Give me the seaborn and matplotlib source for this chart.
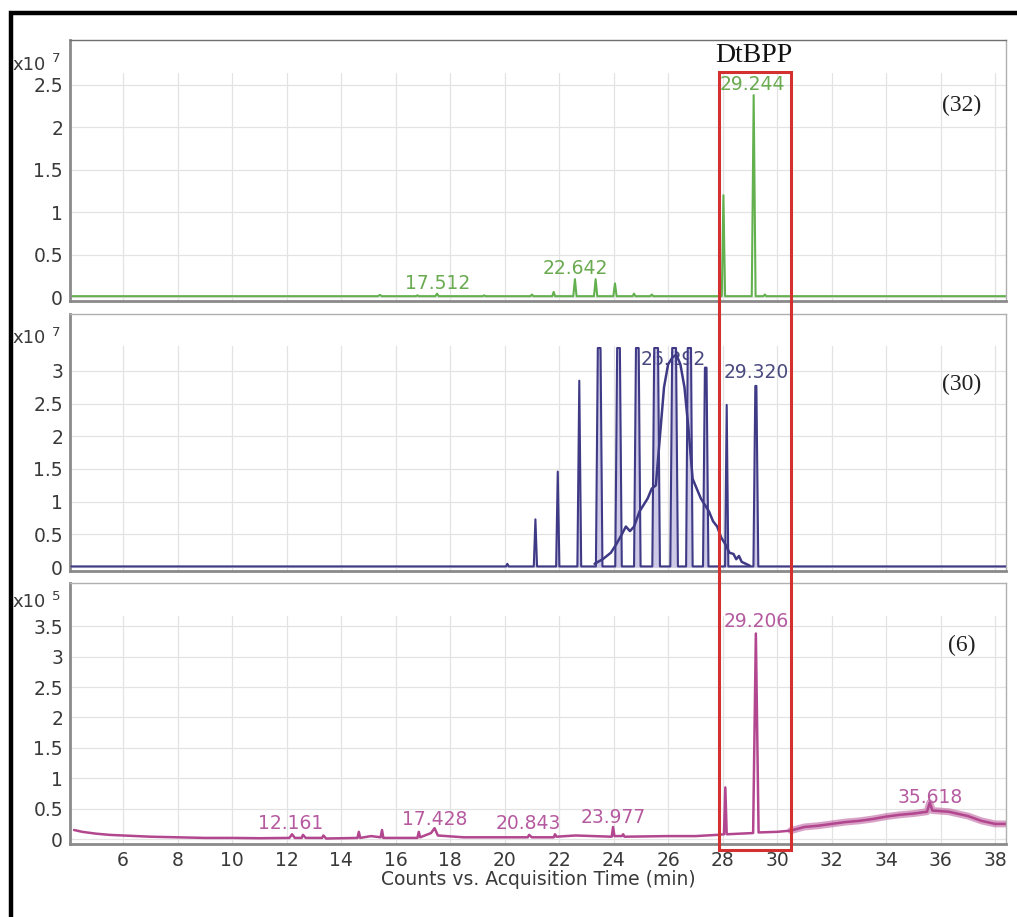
import numpy as np
import pandas as pd
import seaborn as sns
import matplotlib.pyplot as plt
import matplotlib.transforms as mtransforms
from matplotlib.patches import Rectangle
from matplotlib.lines import Line2D

sns.set_style("white")
plt.rcParams["font.family"] = ["DejaVu Sans"]

# ---- data ----
# top trace, sample (32), counts x10^7
top_t = [4.1,
         15.35, 15.42, 15.49, 16.75, 16.8, 16.85, 17.46, 17.52, 17.58,
         19.2, 19.25, 19.3, 20.95, 21.0, 21.05, 21.75, 21.8, 21.85,
         22.52, 22.58, 22.64, 23.28, 23.34, 23.4, 23.99, 24.05, 24.11,
         24.7, 24.75, 24.8, 25.35, 25.4, 25.45, 27.97, 28.03, 28.09,
         29.07, 29.14, 29.21, 29.5, 29.55, 29.6,
         38.4]
top_y = [0.01,
         0.01, 0.025, 0.01, 0.01, 0.02, 0.01, 0.01, 0.04, 0.01,
         0.01, 0.02, 0.01, 0.01, 0.03, 0.01, 0.01, 0.06, 0.01,
         0.01, 0.21, 0.01, 0.01, 0.21, 0.01, 0.01, 0.16, 0.01,
         0.01, 0.04, 0.01, 0.01, 0.03, 0.01, 0.01, 1.2, 0.01,
         0.01, 2.38, 0.01, 0.01, 0.03, 0.01,
         0.01]
top_labels = ["17.512", "22.642", "29.244"]
top_label_x = [17.54, 22.6, 29.11]
top_label_y = [0.165, 0.34, 2.5]

# middle trace, sample (30), counts x10^7 (peaks + broad hump)
mid_peak_t = [4.1, 20.05, 20.1, 20.15, 21.07, 21.13, 21.19, 21.89, 21.95, 22.01, 22.67, 22.74, 22.81,
              23.35, 23.42, 23.52, 23.59, 24.06, 24.13, 24.23, 24.30, 24.75, 24.82, 24.92, 24.99,
              25.42, 25.49, 25.63, 25.70,
              26.08, 26.15, 26.29, 26.36, 26.66, 26.72, 26.84, 26.90, 27.28, 27.35, 27.41, 27.48,
              28.09, 28.15, 28.21,
              29.13, 29.2, 29.24, 29.31, 38.4]
mid_peak_y = [0.01, 0.01, 0.05, 0.01, 0.01, 0.73, 0.01, 0.01, 1.46, 0.01, 0.01, 2.85, 0.01,
              0.01, 3.35, 3.35, 0.01, 0.01, 3.35, 3.35, 0.01, 0.01, 3.35, 3.35, 0.01,
              0.01, 3.35, 3.35, 0.01,
              0.01, 3.35, 3.35, 0.01, 0.01, 3.35, 3.35, 0.01, 0.01, 3.05, 3.05, 0.01,
              0.01, 2.48, 0.01,
              0.01, 2.77, 2.77, 0.01, 0.01]
mid_hump_t = [23.3, 23.6, 23.9, 24.1, 24.3, 24.45, 24.6, 24.75, 24.95, 25.1,
              25.25, 25.4, 25.55, 25.7, 25.85, 26.0, 26.15, 26.3, 26.45, 26.6,
              26.75, 26.9, 27.05, 27.2, 27.35, 27.5, 27.65, 27.8, 27.95, 28.1,
              28.25, 28.4, 28.5, 28.6, 28.7, 28.85, 29.0]
mid_hump_y = [0.05, 0.12, 0.22, 0.35, 0.5, 0.62, 0.55, 0.62, 0.85, 0.95,
              1.05, 1.2, 1.25, 2.0, 2.75, 3.1, 3.2, 3.25, 3.1, 2.75,
              2.1, 1.35, 1.2, 1.05, 0.95, 0.85, 0.7, 0.62, 0.45, 0.35,
              0.22, 0.2, 0.12, 0.17, 0.08, 0.05, 0.02]
mid_labels = ["26.292", "29.320"]
mid_label_x = [26.18, 29.22]
mid_label_y = [3.17, 2.97]

# bottom trace, sample (6), counts x10^5
bot_t = [4.2, 4.5, 5.0, 5.5, 6.0, 7.0, 8.0, 9.0, 10.0, 11.0,
         12.1, 12.2, 12.3, 12.55, 12.6, 12.7, 13.3, 13.35, 13.45, 14.6,
         14.65, 14.7, 15.1, 15.45, 15.5, 15.55, 16.8, 16.85, 16.9, 17.3,
         17.43, 17.55, 18.5, 20.0, 20.85, 20.9, 21.0, 21.8, 21.85, 21.9,
         22.6, 23.93, 23.98, 24.03, 24.3, 24.35, 24.4, 26.0, 27.0, 27.8,
         28.05, 28.1, 28.15, 29.12, 29.22, 29.32, 30.0, 30.5, 31.0, 31.5,
         32.0, 32.5, 33.0, 33.5, 34.0, 34.5, 35.0, 35.5, 35.6, 35.7,
         36.0, 36.3, 36.7, 37.0, 37.5, 38.0, 38.4]
bot_y = [0.15, 0.12, 0.09, 0.07, 0.06, 0.04, 0.03, 0.02, 0.02, 0.015,
         0.02, 0.08, 0.02, 0.02, 0.07, 0.02, 0.02, 0.06, 0.01, 0.02,
         0.12, 0.02, 0.05, 0.03, 0.15, 0.02, 0.02, 0.12, 0.03, 0.1,
         0.18, 0.06, 0.03, 0.03, 0.03, 0.07, 0.03, 0.03, 0.08, 0.04,
         0.06, 0.04, 0.2, 0.05, 0.05, 0.08, 0.04, 0.05, 0.05, 0.07,
         0.08, 0.85, 0.08, 0.1, 3.38, 0.11, 0.12, 0.14, 0.2, 0.22,
         0.25, 0.28, 0.3, 0.33, 0.37, 0.4, 0.42, 0.45, 0.6, 0.47,
         0.46, 0.45, 0.41, 0.38, 0.3, 0.25, 0.25]
bot_labels = ["12.161", "17.428", "20.843", "23.977", "29.206", "35.618"]
bot_label_x = [12.15, 17.43, 20.87, 24.0, 29.22, 35.6]
bot_label_y = [0.25, 0.33, 0.25, 0.35, 3.57, 0.69]

x_ticks = list(range(6, 39, 2))

top_df = pd.DataFrame({"t": top_t, "y": top_y})
peak_df = pd.DataFrame({"t": mid_peak_t, "y": mid_peak_y})
hump_df = pd.DataFrame({"t": mid_hump_t, "y": mid_hump_y})
bot_df = pd.DataFrame({"t": bot_t, "y": bot_y})

# ---- figure in pixel layout ----
W, H = 1017, 917
fig = plt.figure(figsize=(W / 100, H / 100), dpi=100)
FS = 13.5


def px_axes(left, top, right, bottom):
    return fig.add_axes([left / W, 1 - bottom / H, (right - left) / W, (bottom - top) / H])


ax1 = px_axes(70, 40, 1006, 301)
ax2 = px_axes(70, 314, 1006, 571)
ax3 = px_axes(70, 583, 1006, 844)


def style(ax, ylim, yticks, exp, exp_y, show_x):
    ax.set_xlim(4.05, 38.4)
    ax.set_ylim(*ylim)
    ax.set_xticks(x_ticks)
    ax.set_yticks(yticks)
    ax.set_yticklabels([f"{v:g}" for v in yticks])
    for v in yticks:
        ax.axhline(v, color="#e3e3e3", lw=0.9, zorder=0)
    for v in x_ticks:
        ax.axvline(v, ymin=0, ymax=0.875, color="#e3e3e3", lw=0.9, zorder=0)
    ax.tick_params(axis="both", direction="out", length=4, width=1, color="#808080",
                   labelsize=FS, labelcolor="#3a3a3a", pad=1)
    if not show_x:
        ax.tick_params(axis="x", labelbottom=False)
    for side in ["left", "bottom"]:
        ax.spines[side].set_color("#8a8a8a")
        ax.spines[side].set_linewidth(2)
    for side in ["top", "right"]:
        ax.spines[side].set_color("#b0b0b0")
        ax.spines[side].set_linewidth(1)
    ax.set_xlabel("")
    ax.set_ylabel("")
    fig.text(12 / W, 1 - exp_y / H, "x10", fontsize=13, color="#3a3a3a", va="center", ha="left")
    fig.text(52 / W, 1 - (exp_y - 6) / H, exp, fontsize=9.5, color="#3a3a3a", va="center", ha="left")


# top panel
sns.lineplot(data=top_df, x="t", y="y", ax=ax1, color="#62b04e", linewidth=1.5,
             estimator=None, sort=False)
style(ax1, (-0.047, 3.03), [0, 0.5, 1, 1.5, 2, 2.5], "7", 65, False)
ax1.spines["top"].set_color("#707070")
for s, x, y in zip(top_labels, top_label_x, top_label_y):
    ax1.text(x, y, s, color="#6aaa50", fontsize=FS, ha="center", va="center")
ax1.text(0.953, 0.751, "(32)", transform=ax1.transAxes, family="Liberation Serif",
         fontsize=17, ha="center", va="center", color="#222222")

# middle panel
ax2.fill_between(mid_peak_t, mid_peak_y, color="#c5c0e2", alpha=0.85, zorder=2, lw=0)
sns.lineplot(data=peak_df, x="t", y="y", ax=ax2, color="#3f3a85", linewidth=1.5,
             estimator=None, sort=False, zorder=3)
sns.lineplot(data=hump_df, x="t", y="y", ax=ax2, color="#3f3a85", linewidth=1.8,
             estimator=None, sort=False, zorder=3)
style(ax2, (-0.06, 3.87), [0, 0.5, 1, 1.5, 2, 2.5, 3], "7", 338, False)
for s, x, y in zip(mid_labels, mid_label_x, mid_label_y):
    ax2.text(x, y, s, color="#4a4a80", fontsize=FS, ha="center", va="center", zorder=1.5)
ax2.text(0.953, 0.724, "(30)", transform=ax2.transAxes, family="Liberation Serif",
         fontsize=17, ha="center", va="center", color="#222222")

# bottom panel
sns.lineplot(data=bot_df, x="t", y="y", ax=ax3, color="#b2478f", linewidth=1.8,
             estimator=None, sort=False)
sns.lineplot(data=bot_df[bot_df["t"] >= 30.5], x="t", y="y", ax=ax3, color="#b2478f",
             linewidth=5, alpha=0.5, estimator=None, sort=False)
style(ax3, (-0.08, 4.21), [0, 0.5, 1, 1.5, 2, 2.5, 3, 3.5], "5", 602, True)
for s, x, y in zip(bot_labels, bot_label_x, bot_label_y):
    ax3.text(x, y, s, color="#b65aa0", fontsize=FS, ha="center", va="center")
ax3.text(0.953, 0.762, "(6)", transform=ax3.transAxes, family="Liberation Serif",
         fontsize=17, ha="center", va="center", color="#222222")
ax3.set_xlabel("Counts vs. Acquisition Time (min)", fontsize=FS, color="#3a3a3a", labelpad=0)

# red box around DtBPP window spanning all panels
blend = mtransforms.blended_transform_factory(ax3.transData, fig.transFigure)
fig.add_artist(Rectangle((27.85, 1 - 850 / H), 30.5 - 27.85, (850 - 72) / H, transform=blend,
                         fill=False, edgecolor="#d3302f", lw=2.2, zorder=10))
fig.text(29.15, 1 - 55 / H, "DtBPP", transform=blend, family="Liberation Serif",
         fontsize=20, ha="center", va="center", color="#111111")

# black frame
fig.add_artist(Line2D([11 / W, 11 / W, 1.0], [0.0, 1 - 13 / H, 1 - 13 / H],
                      transform=fig.transFigure, color="black", lw=3.2,
                      solid_joinstyle="miter"))

fig.savefig("out.png", dpi=100)
